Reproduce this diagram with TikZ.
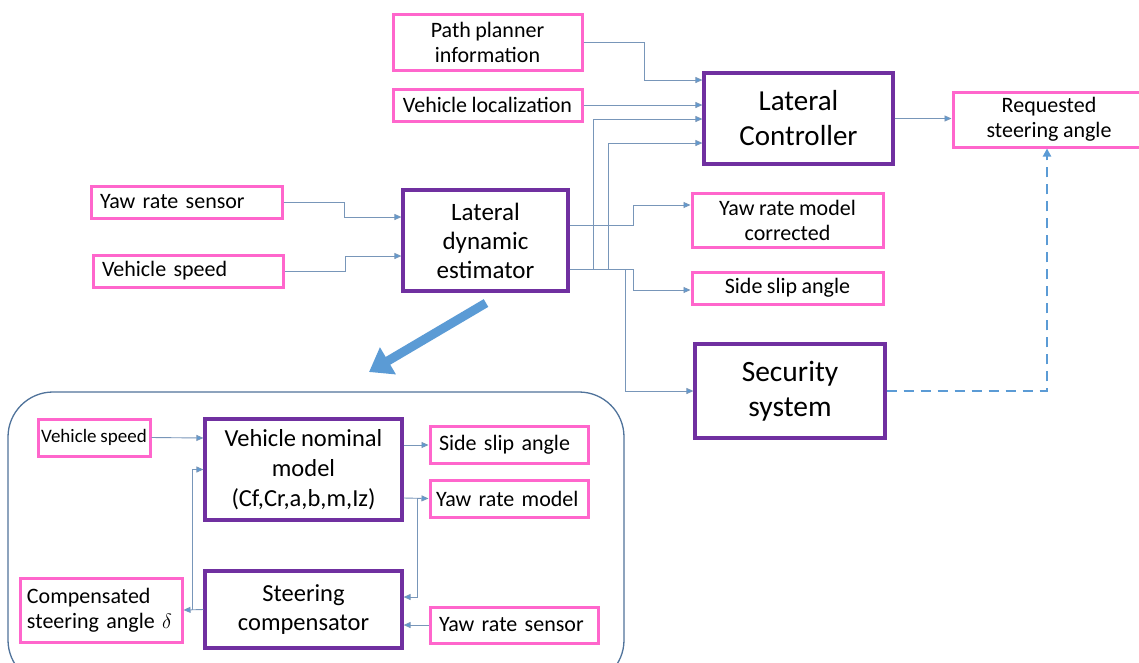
\documentclass[tikz,border=0pt]{standalone}
\usepackage{fontspec}
\setmainfont{Carlito}[WordSpace=0.9]
\usepackage{amsmath}
\usetikzlibrary{arrows.meta}

\definecolor{pinkc}{RGB}{255,102,204}
\definecolor{purplec}{RGB}{112,48,160}
\definecolor{linkc}{RGB}{120,150,185}
\definecolor{tipc}{RGB}{91,155,213}
\definecolor{framec}{RGB}{80,115,155}

\begin{document}
\begin{tikzpicture}[x=1pt, y=1pt,
    pinkbox/.style={draw=pinkc, line width=3pt, fill=white, inner sep=0pt, align=center,
      font=\fontsize{22}{25}\selectfont},
    leftbox/.style={pinkbox, align=left, inner xsep=9pt},
    purplebox/.style={draw=purplec, line width=3.2pt, fill=white, inner sep=0pt, align=center},
    link/.style={draw=linkc, line width=0.9pt, -{Triangle[length=7pt, width=6pt, fill=tipc]}},
    bigarrow/.style={draw=tipc, line width=9pt, -{Triangle[length=22pt, width=30pt, fill=tipc]}},
    dashlink/.style={draw=tipc, line width=2.6pt, dash pattern=on 10pt off 7pt,
      -{Triangle[length=8pt, width=8pt, fill=tipc]}}]
    \useasboundingbox (0,0) rectangle (1139,-662);
    \fill[white] (0,0) rectangle (1139,-662);

    \node[pinkbox, minimum width=189, minimum height=56] (path) at (487.5,-42) {Path planner\\information};
    \node[pinkbox, minimum width=189, minimum height=32] (loc) at (487.5,-105) {Vehicle localization};
    \node[purplebox, minimum width=189, minimum height=91, font=\fontsize{29}{35}\selectfont] (ctrl) at (798.5,-118.5) {Lateral\\Controller};
    \node[pinkbox, minimum width=192, minimum height=55] (req) at (1049,-119.5) {Requested\\steering angle};
    \node[leftbox, text width=173, minimum height=32] (yawtop) at (186.5,-202) {Yaw rate sensor};
    \node[leftbox, text width=172, minimum height=32] (speedtop) at (188,-271) {Vehicle speed};
    \node[purplebox, minimum width=165, minimum height=101, font=\fontsize{25}{29}\selectfont] (est) at (485.5,-240.5) {Lateral\\dynamic\\estimator};
    \node[pinkbox, minimum width=191, minimum height=54] (yawcorr) at (787.5,-220) {Yaw rate model\\corrected};
    \node[pinkbox, minimum width=191, minimum height=32] (sliptop) at (787.5,-288) {Side slip angle};
    \node[purplebox, minimum width=190, minimum height=94, font=\fontsize{29.5}{35}\selectfont] (sec) at (790,-391) {Security\\system};

    \draw[link] (path.east) -- ++(61,0) |- ([yshift=38.5]ctrl.west);
    \draw[link] (loc.east) -- (loc.east -| ctrl.west);
    \draw[link] ([yshift=-28.5]est.east) -- ++(24,0) |- ([yshift=-0.5]ctrl.west);
    \draw[link] ([yshift=-28.5]est.east) -- ++(39,0) |- ([yshift=-24.5]ctrl.west);
    \draw[link] (ctrl.east) -- (ctrl.east -| req.west);
    \draw[link] (yawtop.east) -- ++(61,0) |- ([yshift=23.5]est.west);
    \draw[link] (speedtop.east) -- ++(61,0) |- ([yshift=-15.5]est.west);
    \draw[link] ([yshift=15.5]est.east) -- ++(64,0) |- ([yshift=15]yawcorr.west);
    \draw[link] ([yshift=-28.5]est.east) -- ++(64,0) |- ([yshift=-2]sliptop.west);
    \draw[link] ([yshift=-28.5]est.east) -- ++(56,0) |- (sec.west);
    \draw[dashlink] (sec.east) -| ([xshift=-2]req.south);

    \coordinate (zoomfrom) at (486,-303);
    \coordinate (zoomto) at (369,-372);
    \draw[bigarrow] (zoomfrom) -- (zoomto);

    \draw[draw=framec, line width=1.3pt, rounded corners=45pt] (8,-392) rectangle (624,-685);

    \node[pinkbox, minimum width=112, minimum height=37, font=\fontsize{19}{23}\selectfont] (speedbot) at (94,-437.5) {Vehicle speed};
    \node[purplebox, minimum width=197, minimum height=101, font=\fontsize{24.5}{30}\selectfont] (model) at (303.5,-469.5) {Vehicle nominal\\model\\(Cf,Cr,a,b,m,Iz)};
    \node[leftbox, text width=140, minimum height=37] (slipbot) at (509,-444.5) {Side slip angle};
    \node[leftbox, inner xsep=6pt, text width=146, minimum height=37] (yawmod) at (509,-498.5) {Yaw rate model};
    \node[leftbox, inner xsep=7pt, text width=148, minimum height=64] (comp) at (101,-610) {Compensated\\steering angle $\delta$};
    \node[purplebox, minimum width=197, minimum height=77, font=\fontsize{24.5}{29}\selectfont] (steer) at (303.5,-609.5) {Steering\\compensator};
    \node[leftbox, text width=150, minimum height=36] (yawbot) at (514,-625) {Yaw rate sensor};

    \draw[link] (speedbot.east) -- ([yshift=31.5]model.west);
    \draw[link] ([yshift=24.5]model.east) -- ([yshift=24.5]model.east -| slipbot.west);
    \draw[link] ([yshift=-28.5]model.east) -- (yawmod.west);
    \draw[link] ([yshift=-28.5, xshift=14]model.east) |- ([yshift=12.5]steer.east);
    \draw[link] (yawbot.west) -- (yawbot.west -| steer.east);
    \draw[link] (steer.west) -- (comp.east);
    \draw[link] ([xshift=-11]steer.west) |- (model.west);
\end{tikzpicture}
\end{document}
